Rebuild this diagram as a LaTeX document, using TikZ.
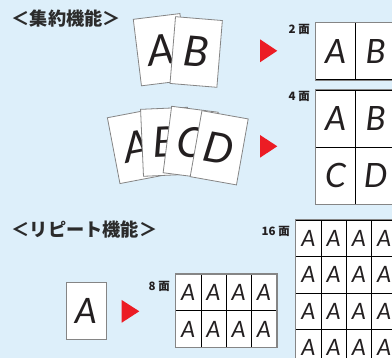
\documentclass[tikz,border=0pt]{standalone}
\usepackage{fontspec}
\setmainfont{Lato}
\newfontfamily\jpf{Noto Sans CJK JP}
\definecolor{bg}{HTML}{DDEFFA}
\definecolor{redtri}{HTML}{EC1C24}
\definecolor{edge}{HTML}{858585}
\definecolor{ink}{HTML}{231F20}
\definecolor{titleink}{HTML}{2B2B2B}
\begin{document}
\begin{tikzpicture}[x=1pt,y=-1pt,
  paper/.style={draw=edge, line width=0.8pt, fill=white, inner sep=0pt,
    minimum width=47pt, minimum height=67pt, text=ink,
    font=\fontsize{42}{42}\selectfont\itshape},
  cell/.style={draw=black, line width=0.7pt, fill=white, inner sep=0pt, text=ink},
  bigcell/.style={cell, minimum width=40pt, minimum height=57pt,
    font=\fontsize{33.5}{33.5}\selectfont\itshape},
  smallcell/.style={cell, minimum width=25.3pt, minimum height=36.5pt,
    font=\fontsize{22.5}{22.5}\selectfont\itshape},
  outer/.style={draw=edge, line width=1.2pt},
  title/.style={anchor=base west, inner sep=0pt, text=titleink,
    font=\jpf\bfseries\fontsize{18.2}{18.2}\selectfont},
  count/.style={anchor=base east, inner sep=0pt, text=ink,
    font=\jpf\bfseries\fontsize{11.5}{11.5}\selectfont},
  tri/.style={fill=redtri, draw=none}
]
\fill[bg] (0,0) rectangle (392,358);
\useasboundingbox (0,0) rectangle (392,358);
\clip (0,0) rectangle (392,358);

% titles
\node[title] (t1) at (11.5,26) {＜集約機能＞};
\node[title] (t2) at (11.5,236.3) {＜リピート機能＞};

% two pages
\node[paper, rotate=7] (pA) at (160.7,49.7) {A};
\node[paper, rotate=-4.7] (pB) at (196.2,52) {B};

% four pages
\node[paper, rotate=10.8] (q1) at (136.75,146.25) {A};
\node[paper, rotate=2.5] (q2) at (165.5,141.8) {B};
\node[paper, rotate=-7.3] (q3) at (190.7,142.5) {C};
\node[paper, rotate=-10.1] (q4) at (219.2,147.8) {D};

% single page
\node[paper, minimum width=40pt, minimum height=56.6pt,
  font=\fontsize{35}{35}\selectfont\itshape] (s1) at (86,311) {A};

% triangles
\fill[tri] (260,39.3) -- (277.3,50.8) -- (260,62.3) -- cycle;
\fill[tri] (260,135) -- (277.3,146.3) -- (260,157.7) -- cycle;
\fill[tri] (121.7,300) -- (139.3,311.3) -- (121.7,322.7) -- cycle;

% counts
\node[count] (n2) at (310,33.5) {2 面};
\node[count] (n4) at (310,101) {4 面};
\node[count] (n16) at (290,236) {16 面};
\node[count] (n8) at (170,291) {8 面};

% 2-up box
\node[bigcell] (b2a) at (335.7,51.35) {A};
\node[bigcell] (b2b) at (375.7,51.35) {B};
\draw[outer] (b2a.north west) rectangle (b2b.south east);

% 4-up box
\node[bigcell] (b4a) at (335.7,118.5) {A};
\node[bigcell] (b4b) at (375.7,118.5) {B};
\node[bigcell] (b4c) at (335.7,175.5) {C};
\node[bigcell] (b4d) at (375.7,175.5) {D};
\draw[outer] (b4a.north west) rectangle (b4d.south east);

% 8-up grid
\foreach \r in {1,2} {
  \foreach \c in {1,...,4} {
    \node[smallcell] (e\r\c) at ({175.7+25.25*(\c-0.5)},{274.3+36.5*(\r-0.5)}) {A};
  }
}
\draw[outer] (e11.north west) rectangle (e24.south east);

% 16-up grid
\foreach \r in {1,...,4} {
  \foreach \c in {1,...,4} {
    \node[smallcell] (f\r\c) at ({295.7+25.3*(\c-0.5)},{220+36.5*(\r-0.5)}) {A};
  }
}
\draw[outer] (f11.north west) rectangle (f44.south east);
\end{tikzpicture}
\end{document}
